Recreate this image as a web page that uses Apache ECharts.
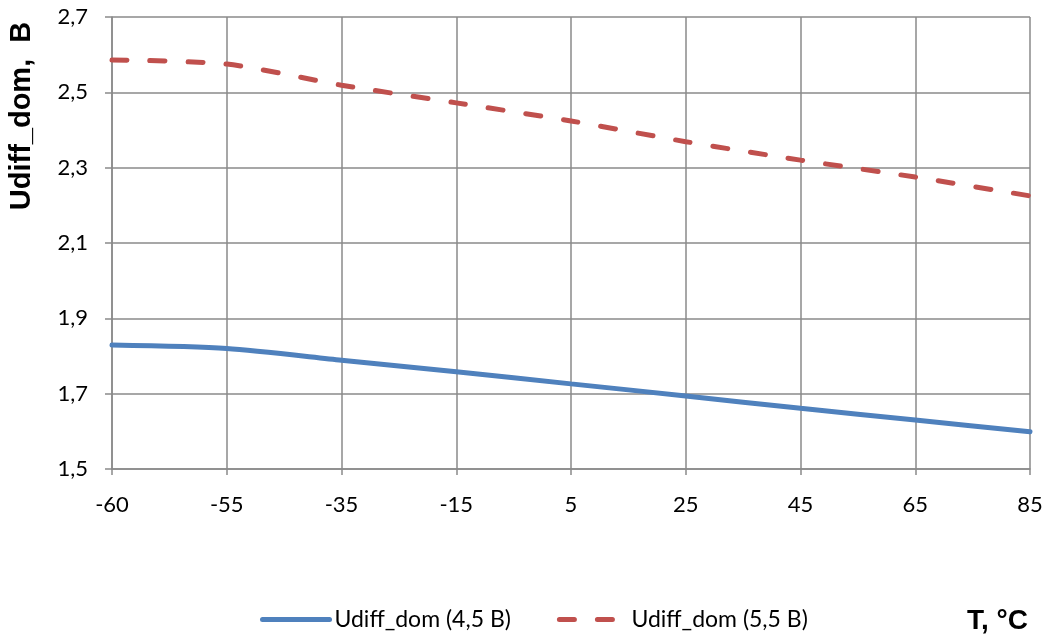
<!DOCTYPE html>
<html>
<head>
<meta charset="utf-8">
<title>Udiff_dom</title>
<script src="https://cdn.jsdelivr.net/npm/echarts@6/dist/echarts.min.js"></script>
<style>
  html, body { margin: 0; padding: 0; background: #fff; }
  #chart { width: 1052px; height: 641px; }
</style>
</head>
<body>
<div id="chart"></div>
<script>
// Temperature points, °C (evenly spaced categories)
const temperatures = ['-60', '-55', '-35', '-15', '5', '25', '45', '65', '85'];
// Differential voltage at 4.5 V supply, V
const udiff45 = [1.829, 1.820, 1.789, 1.758, 1.726, 1.694, 1.661, 1.630, 1.599];
// Differential voltage at 5.5 V supply, V
const udiff55 = [2.586, 2.575, 2.519, 2.472, 2.424, 2.369, 2.320, 2.275, 2.225];
const seriesNames = ['Udiff_dom (4,5 В)', 'Udiff_dom (5,5 В)'];
const yMin = 1.5, yMax = 2.7, yStep = 0.2;

const labelFont = 'Lato, "Open Sans", sans-serif';
const gridColor = '#8a8a8a';
const blue = '#4f81bd';
const red = '#c0504d';

const chart = echarts.init(document.getElementById('chart'), null, { renderer: 'canvas' });

chart.setOption({
  animation: false,
  backgroundColor: '#ffffff',
  grid: { left: 112, right: 22, top: 17, bottom: 172, containLabel: false },
  xAxis: {
    type: 'category',
    data: temperatures,
    boundaryGap: false,
    axisLine: { lineStyle: { color: gridColor, width: 1.5 } },
    axisTick: { show: true, length: 6, lineStyle: { color: gridColor, width: 1.5 } },
    axisLabel: { color: '#000', fontFamily: labelFont, fontSize: 22, margin: 25 },
    splitLine: { show: true, lineStyle: { color: gridColor, width: 1.5 } }
  },
  yAxis: {
    type: 'value',
    min: yMin, max: yMax, interval: yStep,
    axisLine: { show: true, lineStyle: { color: gridColor, width: 1.5 } },
    axisTick: { show: true, length: 7, lineStyle: { color: gridColor, width: 1.5 } },
    axisLabel: {
      color: '#000', fontFamily: labelFont, fontSize: 22, margin: 24,
      formatter: v => v.toFixed(1).replace('.', ',')
    },
    splitLine: { show: true, lineStyle: { color: gridColor, width: 1.5 } }
  },
  legend: {
    bottom: 5,
    left: 255,
    itemWidth: 67,
    itemHeight: 14,
    itemGap: 46,
    itemStyle: { opacity: 0, borderWidth: 0 },
    textStyle: { color: '#000', fontFamily: labelFont, fontSize: 23 },
    data: [
      { name: seriesNames[0], lineStyle: { width: 5, color: blue } },
      { name: seriesNames[1], lineStyle: { width: 5, color: red, type: [15, 23] } }
    ]
  },
  series: [
    {
      name: seriesNames[0],
      type: 'line',
      data: udiff45,
      smooth: 0.25,
      symbol: 'none',
      lineStyle: { color: blue, width: 5, cap: 'round' },
      itemStyle: { color: blue }
    },
    {
      name: seriesNames[1],
      type: 'line',
      data: udiff55,
      smooth: 0.25,
      symbol: 'none',
      lineStyle: { color: red, width: 5, type: [15, 23], cap: 'round' },
      itemStyle: { color: red }
    }
  ],
  graphic: [
    {
      type: 'text',
      x: 22, y: 116,
      rotation: Math.PI / 2,
      style: {
        text: 'Udiff_dom,  В',
        font: 'bold 29px "Liberation Sans", Arial, sans-serif',
        fill: '#000',
        align: 'center',
        verticalAlign: 'middle'
      }
    },
    {
      type: 'text',
      right: 24, top: 607,
      style: {
        text: 'T, °C',
        font: 'bold 28px "Liberation Sans", Arial, sans-serif',
        fill: '#000'
      }
    }
  ]
});
</script>
</body>
</html>
